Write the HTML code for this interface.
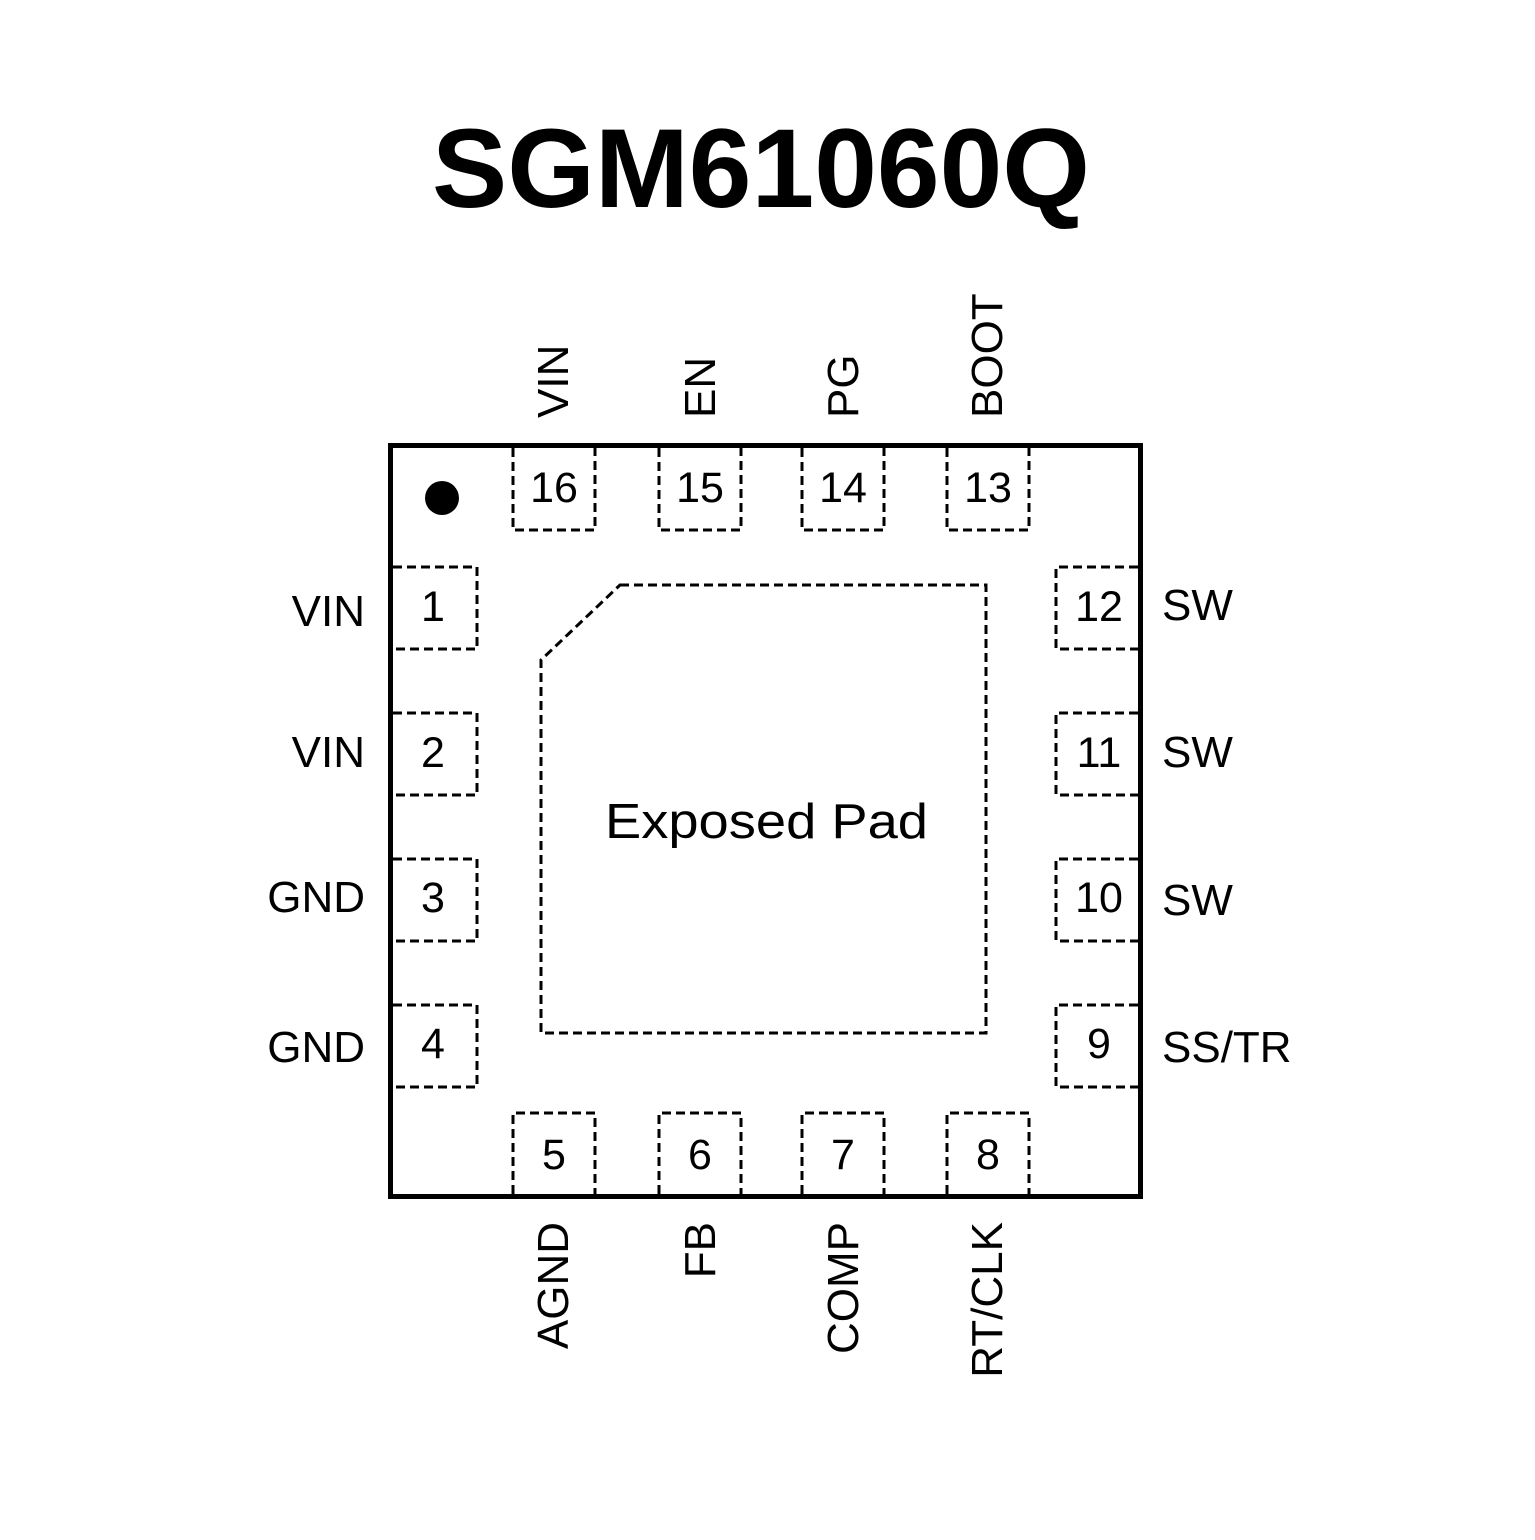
<!DOCTYPE html>
<html><head><style>html,body{margin:0;padding:0;background:#fff}</style></head>
<body>
<svg width="1535" height="1535" viewBox="0 0 1535 1535" xmlns="http://www.w3.org/2000/svg" font-family="Liberation Sans, Arial, sans-serif">
<rect width="1535" height="1535" fill="#fff"/>
<text x="761" y="207" text-anchor="middle" font-size="112" font-weight="bold" textLength="658" lengthAdjust="spacingAndGlyphs">SGM61060Q</text>
<rect x="390.5" y="445.5" width="750" height="751" fill="none" stroke="#000" stroke-width="5"/>
<circle cx="442" cy="498" r="17" fill="#000"/>
<g fill="none" stroke="#000" stroke-width="3" stroke-dasharray="9,5">
<path d="M513 448V530H595V448"/><path d="M659 448V530H741V448"/><path d="M802 448V530H884V448"/><path d="M947 448V530H1029V448"/>
<path d="M513 1194V1113H595V1194"/><path d="M659 1194V1113H741V1194"/><path d="M802 1194V1113H884V1194"/><path d="M947 1194V1113H1029V1194"/>
<path d="M393 567H477V649H393"/><path d="M393 713H477V795H393"/><path d="M393 859H477V941H393"/><path d="M393 1005H477V1087H393"/>
<path d="M1138 567H1056V649H1138"/><path d="M1138 713H1056V795H1138"/><path d="M1138 859H1056V941H1138"/><path d="M1138 1005H1056V1087H1138"/>
<path d="M620 585H986V1033H541V660Z"/>
</g>
<g font-size="43" text-anchor="middle">
<text x="554" y="502">16</text><text x="700" y="502">15</text><text x="843" y="502">14</text><text x="988" y="502">13</text>
<text x="554" y="1169">5</text><text x="700" y="1169">6</text><text x="843" y="1169">7</text><text x="988" y="1169">8</text>
<text x="433" y="621">1</text><text x="433" y="767">2</text><text x="433" y="912">3</text><text x="433" y="1058">4</text>
<text x="1099" y="621">12</text><text x="1099" y="767">11</text><text x="1099" y="912">10</text><text x="1099" y="1058">9</text>
</g>
<text x="605" y="838" font-size="49" textLength="323" lengthAdjust="spacingAndGlyphs">Exposed Pad</text>
<g font-size="44" text-anchor="end">
<text x="365" y="626">VIN</text><text x="365" y="767">VIN</text><text x="365" y="912">GND</text><text x="365" y="1062">GND</text>
</g>
<g font-size="44">
<text x="1162" y="620">SW</text><text x="1162" y="767">SW</text><text x="1162" y="915">SW</text><text x="1162" y="1062">SS/TR</text>
</g>
<g font-size="44">
<text transform="translate(568,418) rotate(-90)">VIN</text>
<text transform="translate(715,418) rotate(-90)">EN</text>
<text transform="translate(858,418) rotate(-90)">PG</text>
<text transform="translate(1002,418) rotate(-90)">BOOT</text>
<text text-anchor="end" transform="translate(568,1222) rotate(-90)">AGND</text>
<text text-anchor="end" transform="translate(715,1222) rotate(-90)">FB</text>
<text text-anchor="end" transform="translate(858,1222) rotate(-90)">COMP</text>
<text text-anchor="end" transform="translate(1002,1222) rotate(-90)">RT/CLK</text>
</g>
</svg>
</body></html>
